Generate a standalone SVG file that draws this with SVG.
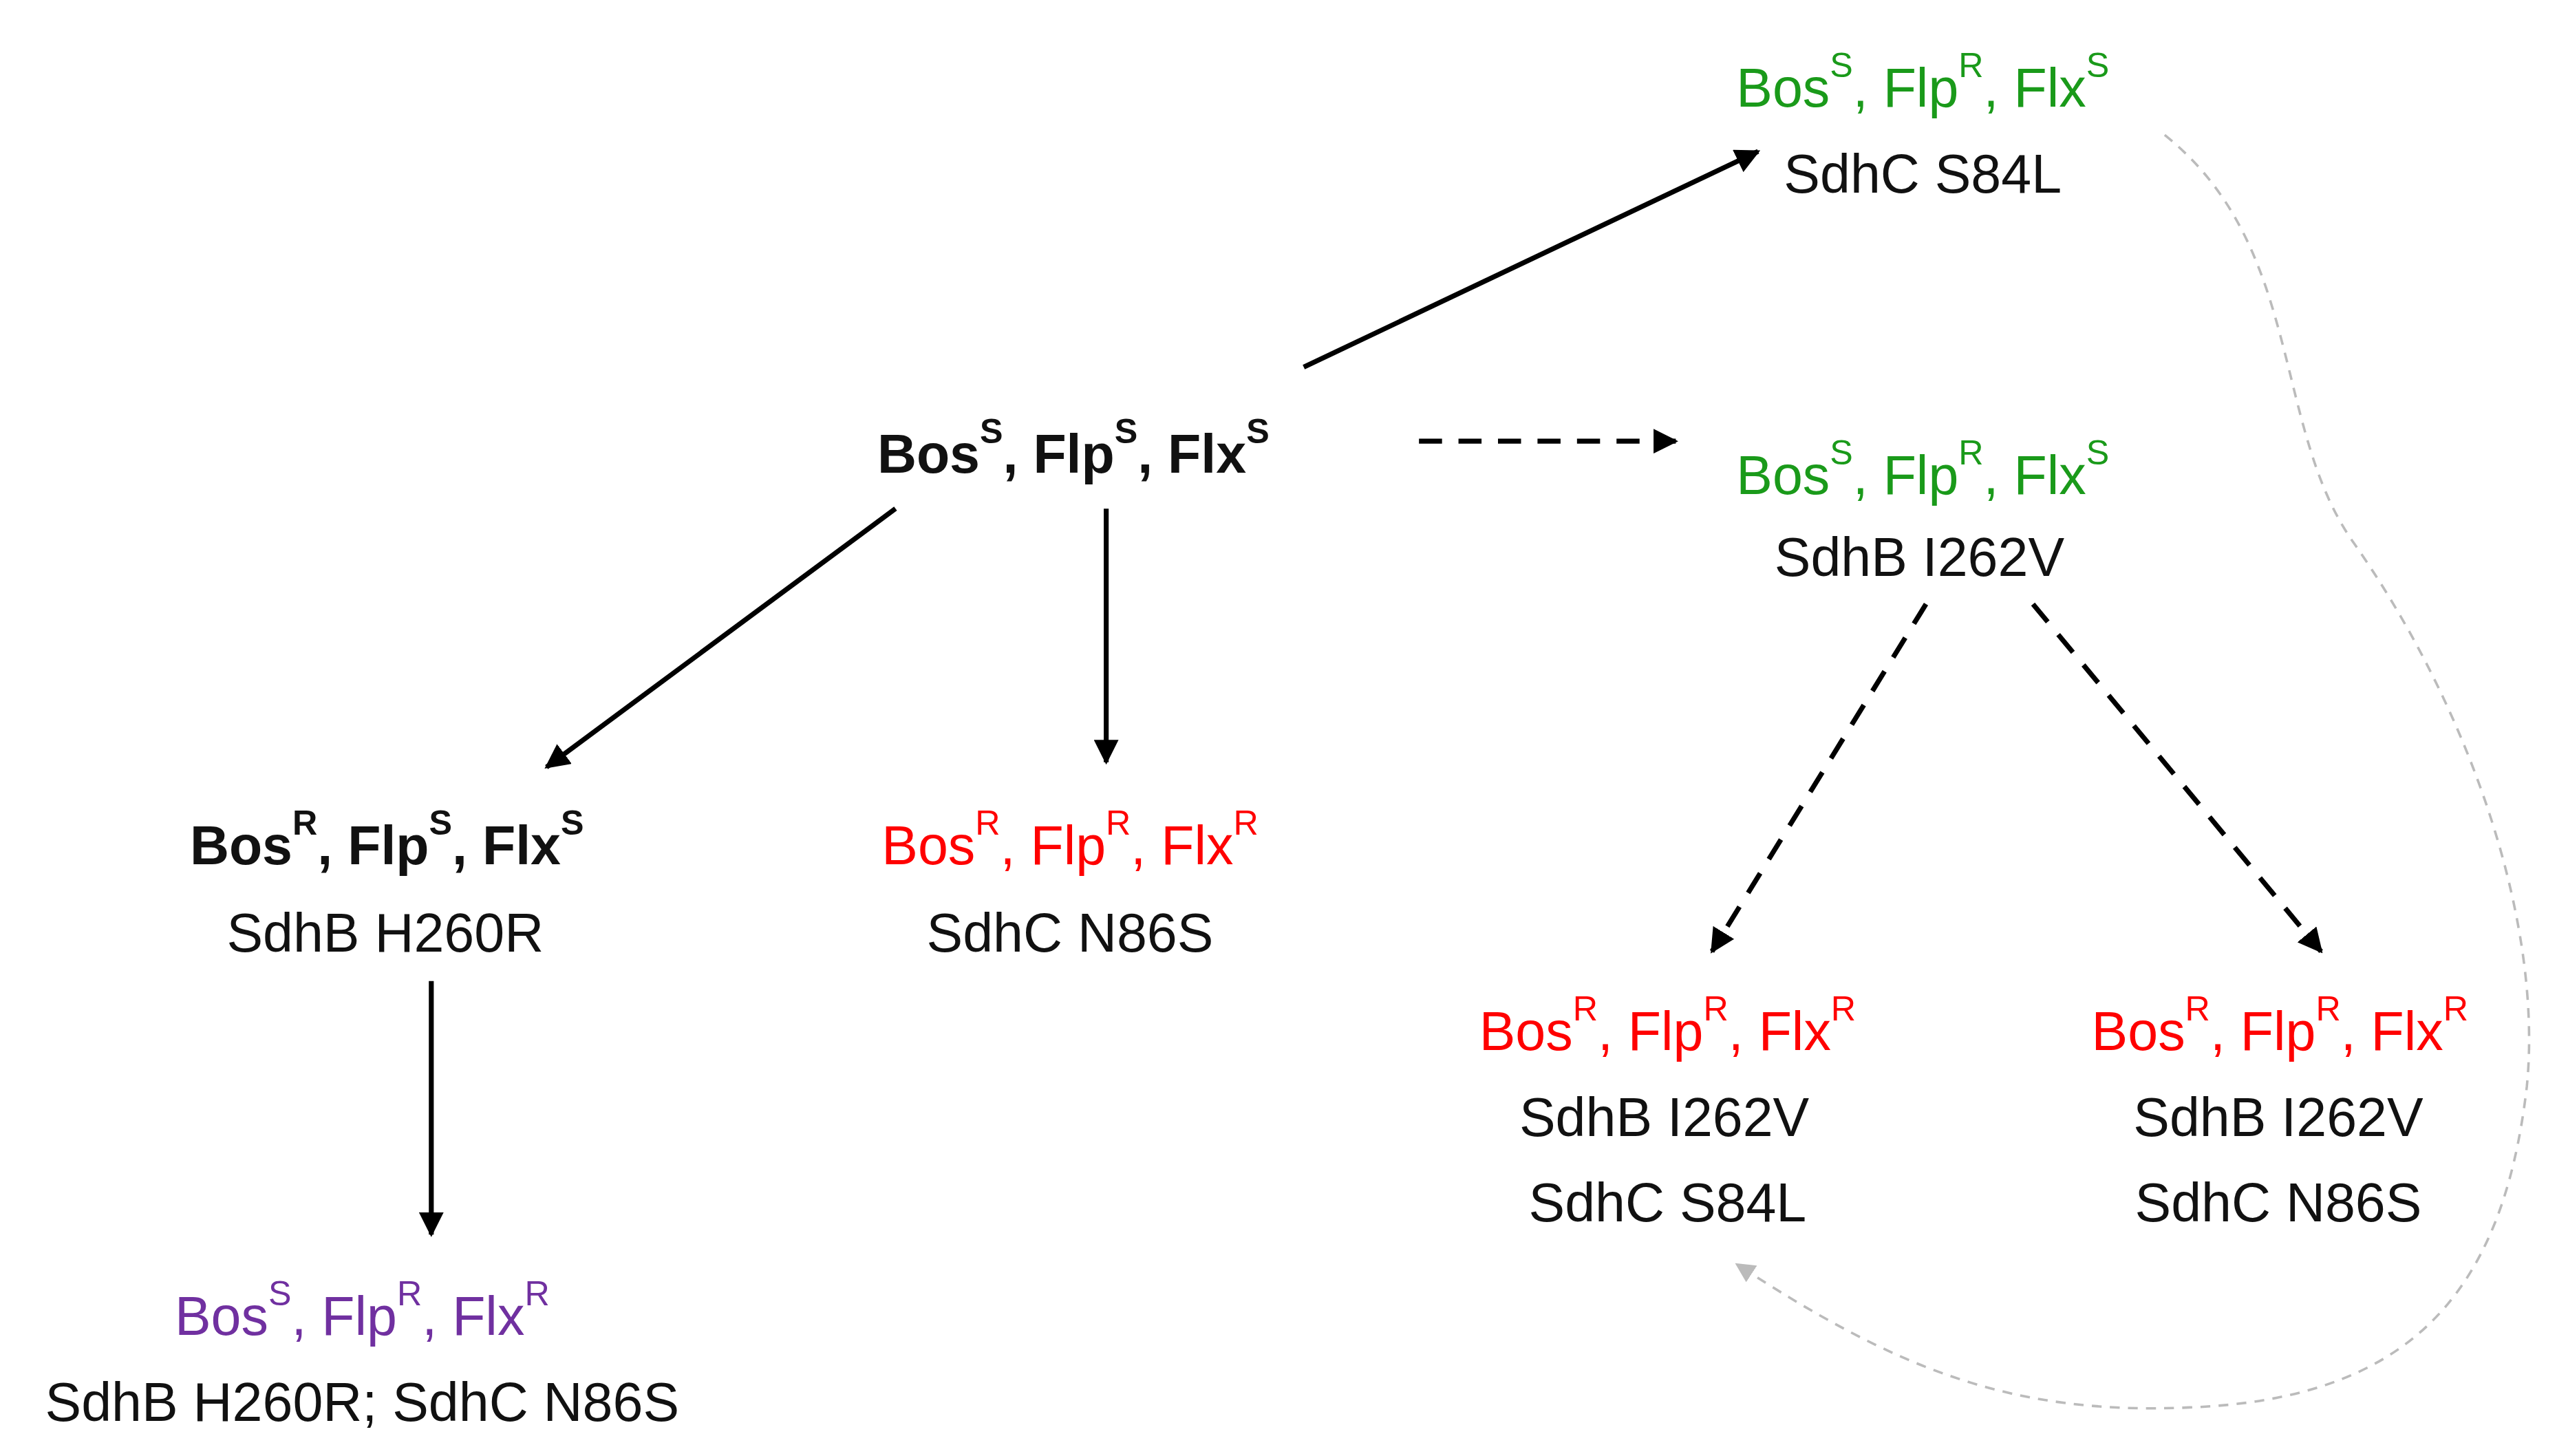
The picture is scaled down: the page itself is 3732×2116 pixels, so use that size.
<svg xmlns="http://www.w3.org/2000/svg" width="3732" height="2116" viewBox="0 0 3732 2116">
<style>
text{font-family:"Liberation Sans",Arial,sans-serif;font-size:33px;text-anchor:middle}
.b{font-weight:bold}
.g{fill:#1a9a1a}.r{fill:#ff0000}.p{fill:#7030a0}.k{fill:#111}
.sup{font-size:21px}
.ln{stroke:#000;stroke-width:3;fill:none}
.d{stroke-dasharray:14 10}
</style>
<defs>
<marker id="ah" viewBox="0 0 10 10" refX="9" refY="5" markerWidth="5" markerHeight="5" orient="auto" markerUnits="strokeWidth"><path d="M0,0L10,5L0,10z" fill="#000"/></marker>
<marker id="ahg" viewBox="0 0 10 10" refX="9" refY="5" markerWidth="8" markerHeight="8" orient="auto" markerUnits="strokeWidth"><path d="M0,0L10,5L0,10z" fill="#bbb"/></marker>
</defs>
<rect width="3732" height="2116" fill="#fff"/>
<g transform="scale(2.3923)">
<g id="connectors">
<line class="ln" x1="792" y1="223" x2="1068" y2="92" marker-end="url(#ah)"/>
<line class="ln d" x1="862" y1="268" x2="1018" y2="268" marker-end="url(#ah)"/>
<line class="ln" x1="544" y1="309" x2="332" y2="466" marker-end="url(#ah)"/>
<line class="ln" x1="672" y1="309" x2="672" y2="463" marker-end="url(#ah)"/>
<line class="ln" x1="262" y1="596" x2="262" y2="750" marker-end="url(#ah)"/>
<line class="ln d" x1="1170" y1="367" x2="1040" y2="578" marker-end="url(#ah)"/>
<line class="ln d" x1="1235" y1="367" x2="1410" y2="578" marker-end="url(#ah)"/>
<path d="M1315,82 C1400,150 1380,260 1430,330 C1500,430 1545,560 1535,660 C1520,790 1460,850 1330,855 C1220,860 1150,830 1055,768" fill="none" stroke="#bbb" stroke-width="1.5" stroke-dasharray="6 5" marker-end="url(#ahg)"/>
</g>
<g id="n_top">
<text x="1168" y="65" class="g">Bos<tspan class="sup" dy="-18">S</tspan><tspan dy="18">, Flp</tspan><tspan class="sup" dy="-18">R</tspan><tspan dy="18">, Flx</tspan><tspan class="sup" dy="-18">S</tspan></text>
<text x="1168" y="117" class="k">SdhC S84L</text>
</g>
<g id="n_root">
<text x="652" y="287" class="k b">Bos<tspan class="sup" dy="-18">S</tspan><tspan dy="18">, Flp</tspan><tspan class="sup" dy="-18">S</tspan><tspan dy="18">, Flx</tspan><tspan class="sup" dy="-18">S</tspan></text>
</g>
<g id="n_mid">
<text x="1168" y="300" class="g">Bos<tspan class="sup" dy="-18">S</tspan><tspan dy="18">, Flp</tspan><tspan class="sup" dy="-18">R</tspan><tspan dy="18">, Flx</tspan><tspan class="sup" dy="-18">S</tspan></text>
<text x="1166" y="350" class="k">SdhB I262V</text>
</g>
<g id="n_left">
<text x="235" y="525" class="k b">Bos<tspan class="sup" dy="-18">R</tspan><tspan dy="18">, Flp</tspan><tspan class="sup" dy="-18">S</tspan><tspan dy="18">, Flx</tspan><tspan class="sup" dy="-18">S</tspan></text>
<text x="234" y="578" class="k">SdhB H260R</text>
</g>
<g id="n_center">
<text x="650" y="525" class="r">Bos<tspan class="sup" dy="-18">R</tspan><tspan dy="18">, Flp</tspan><tspan class="sup" dy="-18">R</tspan><tspan dy="18">, Flx</tspan><tspan class="sup" dy="-18">R</tspan></text>
<text x="650" y="578" class="k">SdhC N86S</text>
</g>
<g id="n_bl">
<text x="220" y="811" class="p">Bos<tspan class="sup" dy="-18">S</tspan><tspan dy="18">, Flp</tspan><tspan class="sup" dy="-18">R</tspan><tspan dy="18">, Flx</tspan><tspan class="sup" dy="-18">R</tspan></text>
<text x="220" y="863" class="k">SdhB H260R; SdhC N86S</text>
</g>
<g id="n_bm">
<text x="1013" y="638" class="r">Bos<tspan class="sup" dy="-18">R</tspan><tspan dy="18">, Flp</tspan><tspan class="sup" dy="-18">R</tspan><tspan dy="18">, Flx</tspan><tspan class="sup" dy="-18">R</tspan></text>
<text x="1011" y="690" class="k">SdhB I262V</text>
<text x="1013" y="742" class="k">SdhC S84L</text>
</g>
<g id="n_br">
<text x="1385" y="638" class="r">Bos<tspan class="sup" dy="-18">R</tspan><tspan dy="18">, Flp</tspan><tspan class="sup" dy="-18">R</tspan><tspan dy="18">, Flx</tspan><tspan class="sup" dy="-18">R</tspan></text>
<text x="1384" y="690" class="k">SdhB I262V</text>
<text x="1384" y="742" class="k">SdhC N86S</text>
</g>
</g>
</svg>
